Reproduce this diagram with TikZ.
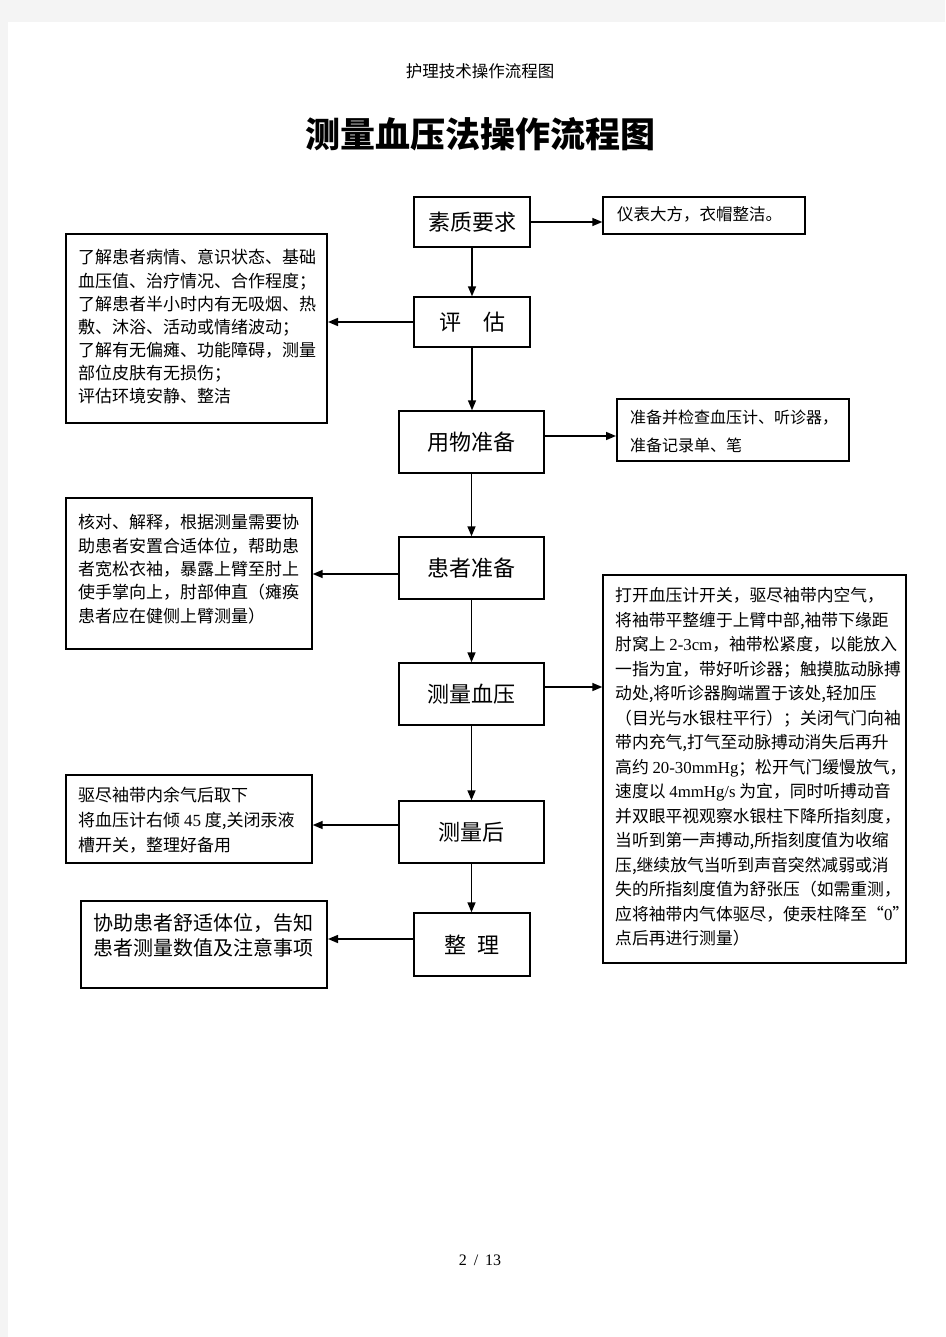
\documentclass[tikz,border=0pt]{standalone}
\usepackage{fontspec}
\setmainfont{Noto Sans CJK SC}
\newfontfamily\tnr{Liberation Serif}
\usetikzlibrary{arrows.meta}
\definecolor{pagegray}{RGB}{244,244,244}
\tikzset{
  mainbox/.style={draw, line width=1.4pt, inner sep=0pt, font=\fontsize{22}{26}\selectfont},
  sidebox/.style={draw, line width=1.4pt, inner sep=0pt},
  thickbox/.style={draw, line width=2pt, inner sep=0pt},
  sidetext/.style={anchor=north west, inner sep=0pt, align=left},
  conn/.style={line width=1.5pt, -{Triangle[length=10pt,width=8pt]}},
}
\begin{document}
\begin{tikzpicture}[x=1pt,y=-1pt]
\fill[pagegray] (0,0) rectangle (945,1337);
\fill[white] (8,22) rectangle (945,1337);
\useasboundingbox (0,0) rectangle (945,1337);

% header, title, page number
\node[font=\fontsize{16.5}{18}\selectfont] (hdr) at (480,71) {护理技术操作流程图};
\node[font=\fontsize{35}{40}\selectfont\bfseries] (title) at (480,134) {测量血压法操作流程图};
\node[font=\tnr\fontsize{16}{18}\selectfont] (pg) at (480,1260) {2\hspace{7pt}/\hspace{7pt}13};

% main column
\node[mainbox, minimum width=116pt, minimum height=50pt] (s1) at (472,222) {素质要求};
\node[mainbox, minimum width=116pt, minimum height=50pt] (s2) at (472,322) {评\hspace{22pt}估};
\node[mainbox, minimum width=145pt, minimum height=62pt] (s3) at (471.5,442) {用物准备};
\node[mainbox, minimum width=145pt, minimum height=62pt] (s4) at (471.5,568) {患者准备};
\node[mainbox, minimum width=145pt, minimum height=62pt] (s5) at (471.5,694) {测量血压};
\node[mainbox, minimum width=145pt, minimum height=62pt] (s6) at (471.5,832) {测量后};
\node[mainbox, minimum width=116pt, minimum height=63pt] (s7) at (472,944.5) {整\hspace{11pt}理};

% side boxes
\node[sidebox, minimum width=202pt, minimum height=37pt] (r1) at (704,215.5) {};
\node[thickbox, minimum width=232pt, minimum height=62pt] (r3) at (733,430) {};
\node[sidebox, minimum width=303pt, minimum height=388pt] (r5) at (754.5,769) {};
\node[thickbox, minimum width=261pt, minimum height=189pt] (l2) at (196.5,328.5) {};
\node[sidebox, minimum width=246pt, minimum height=151pt] (l4) at (189,573.5) {};
\node[sidebox, minimum width=246pt, minimum height=88pt] (l6) at (189,819) {};
\node[thickbox, minimum width=246pt, minimum height=87pt] (l7) at (204,944.5) {};

% side texts
\node[anchor=west, inner sep=0pt, font=\fontsize{16.5}{20}\selectfont] (t1) at (617,214) {仪表大方，衣帽整洁。};
\node[sidetext, font=\fontsize{16}{28}\selectfont] (t3) at (630,409.5) {准备并检查血压计、听诊器，\\准备记录单、笔};
\node[sidetext, font=\fontsize{17}{23.1}\selectfont] (t2) at (78,249.3) {了解患者病情、意识状态、基础\\血压值、治疗情况、合作程度；\\了解患者半小时内有无吸烟、热\\敷、沐浴、活动或情绪波动；\\了解有无偏瘫、功能障碍，测量\\部位皮肤有无损伤；\\评估环境安静、整洁};
\node[sidetext, font=\fontsize{17}{23.3}\selectfont] (t4) at (78,514.3) {核对、解释，根据测量需要协\\助患者安置合适体位，帮助患\\者宽松衣袖，暴露上臂至肘上\\使手掌向上，肘部伸直（瘫痪\\患者应在健侧上臂测量）};
\node[sidetext, font=\fontsize{17}{25}\selectfont] (t6) at (78,787.3) {驱尽袖带内余气后取下\\将血压计右倾 {\tnr 45} 度,关闭汞液\\槽开关，整理好备用};
\node[sidetext, font=\fontsize{20}{25}\selectfont] (t7) at (93,913) {协助患者舒适体位，告知\\患者测量数值及注意事项};
\node[sidetext, font=\fontsize{16.8}{24.5}\selectfont] (t5) at (615,587.4) {打开血压计开关，驱尽袖带内空气，\\将袖带平整缠于上臂中部,袖带下缘距\\肘窝上 {\tnr 2-3cm}，袖带松紧度，以能放入\\一指为宜，带好听诊器；触摸肱动脉搏\\动处,将听诊器胸端置于该处,轻加压\\（目光与水银柱平行）；关闭气门向袖\\带内充气,打气至动脉搏动消失后再升\\高约 {\tnr 20-30mmHg}；松开气门缓慢放气，\\速度以 {\tnr 4mmHg/s} 为宜，同时听搏动音\\并双眼平视观察水银柱下降所指刻度，\\当听到第一声搏动,所指刻度值为收缩\\压,继续放气当听到声音突然减弱或消\\失的所指刻度值为舒张压（如需重测，\\应将袖带内气体驱尽，使汞柱降至“{\tnr 0}”\\点后再进行测量）};

% vertical connectors
\draw[conn] (s1) -- (s2);
\draw[conn] (s2.south) -- (s2.south |- s3.north);
\draw[conn] (s3) -- (s4);
\draw[conn] (s4) -- (s5);
\draw[conn] (s5) -- (s6);
\draw[conn] (s6.south) -- (s6.south |- s7.north);

% horizontal connectors
\draw[conn] (s1) -- (s1 -| r1.west);
\draw[conn] (s2) -- (s2 -| l2.east);
\coordinate[yshift=6pt] (c3) at (s3.east);
\draw[conn] (c3) -- (c3 -| r3.west);
\coordinate[yshift=-6pt] (c4) at (s4.west);
\draw[conn] (c4) -- (c4 -| l4.east);
\coordinate[yshift=7pt] (c5) at (s5.east);
\draw[conn] (c5) -- (c5 -| r5.west);
\coordinate[yshift=7pt] (c6) at (s6.west);
\draw[conn] (c6) -- (c6 -| l6.east);
\coordinate[yshift=5.5pt] (c7) at (s7.west);
\draw[conn] (c7) -- (c7 -| l7.east);
\end{tikzpicture}
\end{document}
